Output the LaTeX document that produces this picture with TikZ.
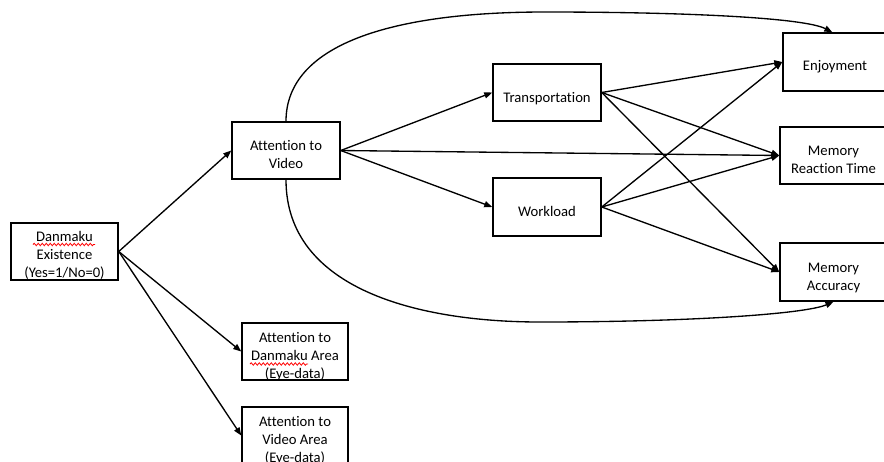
\documentclass[tikz,border=0pt]{standalone}
\usepackage{fontspec}
\setmainfont{Carlito}[Ligatures={NoCommon}]
\usetikzlibrary{arrows.meta,decorations.pathmorphing}
\begin{document}
\begin{tikzpicture}[x=0.75pt,y=-0.75pt,
  box/.style 2 args={draw,line width=1.1pt,rectangle,inner sep=0pt,
    minimum width=#1*0.75pt,minimum height=#2*0.75pt},
  txt/.style={align=center,inner sep=0pt,font=\fontsize{11}{13.5}\selectfont},
  arr/.style={line width=1pt,-{Triangle[length=6pt,width=4.6pt]}},
  squiggle/.style={draw=red,line width=0.6pt,decorate,
    decoration={snake,amplitude=0.9pt,segment length=3pt}}]
\useasboundingbox (0,0) rectangle (884,461);
% boxes
\node[box={107}{57}] (dan) at (64.5,251.5) {};
\node[box={108}{57}] (att) at (286,150.5) {};
\node[box={108}{57}] (tra) at (547,92.5) {};
\node[box={108}{58}] (wor) at (547,207) {};
\node[box={104}{58}] (enj) at (835,62) {};
\node[box={107}{57}] (mrt) at (833.5,155.5) {};
\node[box={107}{58}] (mac) at (833.5,272) {};
\node[box={106}{57}] (ada) at (295,351.5) {};
\node[box={106}{57}] (ava) at (295,435.5) {};
% texts
\node[txt] (dant) at (64.5,255.5) {Danmaku\\Existence\\(Yes=1/No=0)};
\node[txt] (attt) at (286,154.5) {Attention to\\Video};
\node[txt] (trat) at (547,99) {Transportation};
\node[txt] (wort) at (547,211) {Workload};
\node[txt] (enjt) at (835,67) {Enjoyment};
\node[txt] (mrtt) at (833.5,160) {Memory\\Reaction Time};
\node[txt] (mact) at (833.5,278) {Memory\\Accuracy};
\node[txt] (adat) at (295,357) {Attention to\\Danmaku Area\\(Eye-data)};
\node[txt] (avat) at (295,441) {Attention to\\Video Area\\(Eye-data)};
% spell-check underlines
\path[squiggle] (33,244.5) -- (95,244.5);
\path[squiggle] (250,364) -- (308,364);
% connectors
\draw[arr] (dan.east) -- (att.west);
\draw[arr] (dan.east) -- (ada.west);
\draw[arr] (dan.east) -- (ava.west);
\draw[arr] (att.east) -- (tra.west);
\draw[arr] (att.east) -- (wor.west);
\draw[arr] (att.east) -- (mrt.west);
\draw[arr] (tra.east) -- (enj.west);
\draw[arr] (tra.east) -- (mrt.west);
\draw[arr] (tra.east) -- (mac.west);
\draw[arr] (wor.east) -- (enj.west);
\draw[arr] (wor.east) -- (mrt.west);
\draw[arr] (wor.east) -- (mac.west);
\draw[arr] (att.north) .. controls (286,45) and (390,12) .. (545,12)
  .. controls (690,12) and (805,18) .. ([xshift=-2pt]enj.north);
\draw[arr] (att.south) .. controls (286,290) and (420,322) .. (540,322)
  .. controls (690,322) and (805,314) .. (mac.south);
\end{tikzpicture}
\end{document}
